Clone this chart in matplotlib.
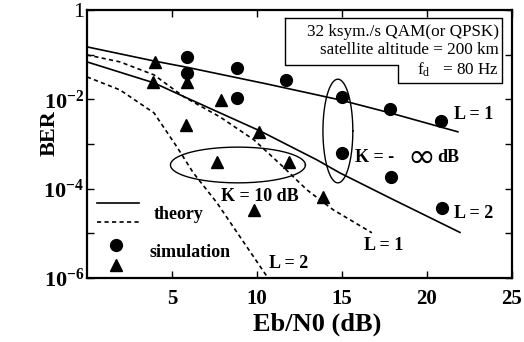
import numpy as np
import matplotlib
matplotlib.use("Agg")
import matplotlib.pyplot as plt

plt.rcParams['font.family'] = ['Liberation Serif', 'DejaVu Serif']
plt.rcParams['mathtext.fontset'] = 'custom'
plt.rcParams['mathtext.rm'] = 'Liberation Serif'
plt.rcParams['mathtext.bf'] = 'Liberation Serif:bold'

# simulation points (Eb/N0 dB, BER)
circle_x = [5.9, 5.9, 8.8, 8.8, 11.7, 15.0, 17.8, 20.8, 15.0, 17.9, 20.9]
circle_y = [0.089, 0.039, 0.05, 0.0107, 0.027, 0.0112, 0.0061, 0.0033, 6.3e-4, 1.8e-4, 3.7e-5]
tri_x = [4.0, 3.9, 5.9, 7.9, 5.8, 10.1, 7.65, 11.9, 13.9, 9.8]
tri_y = [0.069, 0.025, 0.025, 0.0097, 0.0027, 0.0019, 4.0e-4, 4.0e-4, 6.6e-5, 3.4e-5]

# theory curves, K = -inf dB (solid)
sol1_x = [0, 3.94, 5.88, 10.59, 14.88, 17.82, 21.82]
sol1_y = [0.149, 0.072, 0.052, 0.022, 0.0097, 0.00497, 0.00187]
sol2_x = [0, 3.94, 5.88, 10.18, 13.53, 14.88, 17.82, 21.94]
sol2_y = [0.0687, 0.0233, 0.0107, 1.96e-3, 4.4e-4, 2.25e-4, 6.2e-5, 1.05e-5]
# theory curves, K = 10 dB (dashed)
dash1_x = [0, 1.94, 3.94, 5.71, 7.82, 9.82, 11.53, 12.94, 14.47, 16.76]
dash1_y = [0.0985, 0.0687, 0.0352, 0.0113, 0.00404, 1.24e-3, 3.1e-4, 9.4e-5, 3.4e-5, 1.03e-5]
dash2_x = [0, 1.94, 3.94, 5.29, 6.24, 7.65, 9.0, 10.65]
dash2_y = [0.0317, 0.0162, 0.00497, 8.6e-4, 2.3e-4, 4.8e-5, 8.4e-6, 1.0e-6]

fig = plt.figure(figsize=(5.24, 3.42), dpi=100)
ax = fig.add_axes([0.166, 0.187, 0.811, 0.784])
ax.set_yscale('log')
ax.set_xlim(0, 25)
ax.set_ylim(1e-6, 1)

dash = (0, (2.5, 2))
ax.plot(sol1_x, sol1_y, 'k-', lw=1.2)
ax.plot(sol2_x, sol2_y, 'k-', lw=1.2)
ax.plot(dash1_x, dash1_y, 'k', ls=dash, lw=1.2)
ax.plot(dash2_x, dash2_y, 'k', ls=dash, lw=1.2)
ax.plot(circle_x, circle_y, 'ko', ms=8.5, ls='none')
ax.plot(tri_x, tri_y, 'k^', ms=9, ls='none')

# ellipses around groups
t = np.linspace(0, 2 * np.pi, 200)
ax.plot(8.88 + 3.97 * np.cos(t), 10 ** (-3.47 + 0.40 * np.sin(t)), 'k-', lw=1)
ax.plot(14.76 + 0.88 * np.cos(t), 10 ** (-2.71 + 1.16 * np.sin(t)), 'k-', lw=1)

bold = dict(fontsize=13, fontweight='bold', va='center')
ax.text(21.6, 10 ** -2.35, 'L = 1', **bold)
ax.text(21.6, 10 ** -4.56, 'L = 2', **bold)
ax.text(16.3, 10 ** -5.28, 'L = 1', **bold)
ax.text(10.7, 10 ** -5.68, 'L = 2', **bold)
ax.text(15.75, 10 ** -3.31, 'K = -', **bold)
ax.text(18.85, 10 ** -3.31, '\u221e', fontsize=24, family='DejaVu Sans', va='center')
ax.text(20.6, 10 ** -3.31, 'dB', **bold)
ax.text(7.9, 10 ** -4.18, 'K = 10 dB', **bold)

# legend drawn by hand
ax.plot([0.024, 0.122], [0.28, 0.28], 'k-', lw=1.2, transform=ax.transAxes)
ax.plot([0.024, 0.122], [0.209, 0.209], 'k', ls=dash, lw=1.2, transform=ax.transAxes)
ax.text(0.157, 0.236, 'theory', transform=ax.transAxes, **bold)
ax.plot([0.068], [0.123], 'ko', ms=8.5, transform=ax.transAxes)
ax.plot([0.068], [0.048], 'k^', ms=9, transform=ax.transAxes)
ax.text(0.146, 0.097, 'simulation', transform=ax.transAxes, **bold)

# info box
def fx(px):
    return (px - 87) / 425
def fy(py):
    return (278 - py) / 268
bx = [fx(285), fx(502), fx(502), fx(398), fx(398), fx(285), fx(285)]
by = [fy(18), fy(18), fy(83), fy(83), fy(65), fy(65), fy(18)]
ax.plot(bx, by, 'k-', lw=1, transform=ax.transAxes)
ax.text(fx(499), fy(32), '32 ksym./s QAM(or QPSK)', transform=ax.transAxes,
        ha='right', va='center', fontsize=12.3)
ax.text(fx(499), fy(50), 'satellite altitude = 200 km', transform=ax.transAxes,
        ha='right', va='center', fontsize=12.3)
ax.text(fx(499), fy(70), r'$\mathregular{f_d}$   = 80 Hz', transform=ax.transAxes,
        ha='right', va='center', fontsize=12.3)

ax.set_xticks([5, 10, 15, 20, 25])
ax.set_xticklabels(['5', '10', '15', '20', '25'], fontweight='bold', fontsize=15)
ax.set_yticks([1, 1e-2, 1e-4, 1e-6])
ax.set_yticklabels(['1', r'$\mathbf{10^{-2}}$', r'$\mathbf{10^{-4}}$', r'$\mathbf{10^{-6}}$'],
                   fontsize=16)
ax.set_yticks([1e-1, 1e-3, 1e-5], minor=True)
ax.set_yticklabels([], minor=True)
ax.tick_params(which='both', direction='in', top=True, right=True, length=5, width=1)
ax.tick_params(axis='x', which='minor', bottom=False, top=False)
ax.tick_params(axis='x', pad=8)
ax.tick_params(axis='y', pad=2)
for s in ax.spines.values():
    s.set_linewidth(1.6)

ax.set_xlabel('Eb/N0 (dB)', fontsize=19, fontweight='bold')
ax.xaxis.set_label_coords(0.541, -0.128)
ax.set_ylabel('BER', fontsize=16, fontweight='bold')
ax.yaxis.set_label_coords(-0.064, 0.54)

fig.savefig('out.png', dpi=100)
